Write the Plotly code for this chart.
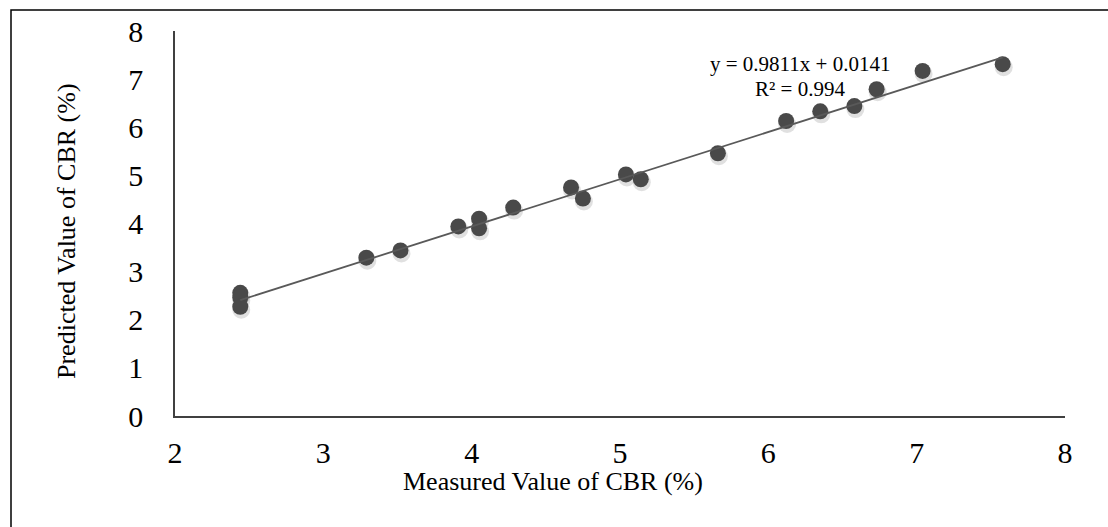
import plotly.graph_objects as go

# Data
measured = [2.44, 2.44, 2.44, 3.29, 3.52, 3.91, 4.05, 4.05, 4.28, 4.67, 4.75,
            5.04, 5.14, 5.66, 6.12, 6.35, 6.58, 6.73, 7.04, 7.58]
predicted = [2.56, 2.46, 2.27, 3.29, 3.44, 3.94, 4.10, 3.90, 4.33, 4.75, 4.52,
             5.02, 4.92, 5.46, 6.13, 6.33, 6.44, 6.79, 7.17, 7.31]
slope = 0.9811
intercept = 0.0141
r2 = 0.994
x_ticks = [2, 3, 4, 5, 6, 7, 8]
y_ticks = [0, 1, 2, 3, 4, 5, 6, 7, 8]
x_title = "Measured Value of CBR (%)"
y_title = "Predicted Value of CBR (%)"

FONT = "Liberation Serif, Times New Roman, serif"

W, H = 1108, 527
ML, MR, MT, MB = 175, 43, 31, 111
plot_h = H - MT - MB
plot_w = W - ML - MR
x_range = [2, 8]
y_range = [0, 8]


def px_x(p):  # pixel -> paper x
    return (p - ML) / plot_w


def px_y(p):  # pixel -> paper y
    return (H - MB - p) / plot_h


# shadow offset (pixels -> data units)
dx = 1.0 * (x_range[1] - x_range[0]) / plot_w
dy = 3.0 * (y_range[1] - y_range[0]) / plot_h

x_line = [min(measured), max(measured)]
y_line = [slope * v + intercept for v in x_line]

fig = go.Figure()
fig.add_trace(go.Scatter(
    x=[v + dx for v in measured], y=[v - dy for v in predicted], mode="markers",
    marker=dict(size=18, color="rgba(0,0,0,0.12)", line=dict(width=0)),
    hoverinfo="skip", showlegend=False))
fig.add_trace(go.Scatter(
    x=measured, y=predicted, mode="markers",
    marker=dict(size=16, color="#494949", line=dict(width=0)),
    showlegend=False))
fig.add_trace(go.Scatter(
    x=x_line, y=y_line, mode="lines",
    line=dict(color="#595959", width=1.8), showlegend=False))


def label(text, px, py, size, angle=0):
    fig.add_annotation(
        x=px_x(px), y=px_y(py), xref="paper", yref="paper",
        xanchor="center", yanchor="middle", textangle=angle,
        text=text, showarrow=False, borderpad=0,
        font=dict(family=FONT, size=size, color="black"))


label(f"y = {slope}x + {intercept}", 800, 64, 21)
label(f"R² = {r2}", 800, 89, 21)
label(x_title, 553, 481, 26)
label(y_title, 67, 231, 26, angle=-90)

fig.add_shape(type="rect", xref="paper", yref="paper",
              x0=-(ML - 11) / plot_w, x1=1 + (MR + 5) / plot_w,
              y0=-(MB + 5) / plot_h, y1=1 + (MT - 10) / plot_h,
              line=dict(color="black", width=1.5), layer="below")

fig.update_layout(
    width=W, height=H,
    margin=dict(l=ML, r=MR, t=MT, b=MB, autoexpand=False),
    paper_bgcolor="white", plot_bgcolor="white",
    font=dict(family=FONT, color="black"),
    xaxis=dict(range=x_range, tickvals=x_ticks, showgrid=False, zeroline=False,
               showline=True, linecolor="#404040", linewidth=1.5, ticks="",
               automargin=False,
               tickfont=dict(size=30, family=FONT), ticklabelstandoff=9),
    yaxis=dict(range=y_range, tickvals=y_ticks, showgrid=False, zeroline=False,
               showline=True, linecolor="#404040", linewidth=1.5, ticks="",
               automargin=False,
               tickfont=dict(size=30, family=FONT), ticklabelstandoff=24),
)

fig.write_html("out.html", config={"displayModeBar": False},
               post_script="document.body.style.margin='0';")
